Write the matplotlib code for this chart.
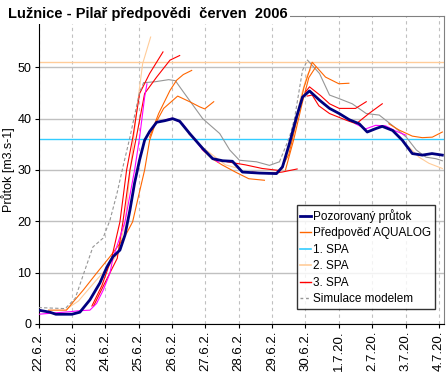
import numpy as np
import matplotlib
matplotlib.use('Agg')
import matplotlib.pyplot as plt
from matplotlib.lines import Line2D

plt.rcParams['font.family'] = ['Liberation Sans', 'DejaVu Sans']

# x = days since 22.6.2006 00:00, values in m3/s
tick_labels = ['22.6.2.', '23.6.2.', '24.6.2.', '25.6.2.', '26.6.2.', '27.6.2.',
               '28.6.2.', '29.6.2.', '30.6.2.', '1.7.20.', '2.7.20.', '3.7.20.', '4.7.20.']

spa1 = 36.0
spa2 = 51.0

# observed discharge
obs_d = [0.0, 0.34, 0.52, 1.0, 1.24, 1.54, 1.84, 2.05, 2.23, 2.44, 2.59, 2.74, 2.88, 3.03,
         3.18, 3.33, 3.54, 3.78, 4.02, 4.23, 4.53, 4.92, 5.22, 5.52, 5.81, 6.11, 6.62, 7.13,
         7.31, 7.52, 7.73, 7.91, 8.12, 8.42, 8.72, 9.01, 9.31, 9.61, 9.85, 10.12, 10.30,
         10.61, 10.90, 11.20, 11.50, 11.79, 12.1]
obs_q = [2.7, 2.3, 1.9, 1.9, 2.3, 4.7, 8.0, 11.1, 13.1, 14.4, 17.3, 22.2, 27.5, 32.0,
         35.8, 37.5, 39.3, 39.6, 40.0, 39.5, 37.1, 34.2, 32.2, 31.8, 31.7, 29.6, 29.4, 29.3,
         30.6, 35.2, 40.3, 44.2, 45.4, 43.6, 42.0, 41.0, 39.8, 39.0, 37.4, 38.1, 38.5,
         37.7, 35.8, 33.2, 32.9, 33.2, 32.9]

# model simulation (grey dashed) and its continuation (grey solid)
sim1_d = [0.0, 0.8, 1.1, 1.39, 1.63, 1.93, 2.14, 2.35, 2.53, 2.74, 3.03, 3.15]
sim1_q = [3.2, 3.0, 5.0, 10.5, 15.0, 16.7, 20.2, 25.4, 30.6, 36.4, 45.2, 47.0]
gry1_d = [3.15, 3.5, 3.9, 4.1, 4.32, 4.92, 5.43, 5.73, 6.02, 6.53, 6.92, 7.22]
gry1_q = [47.0, 47.2, 47.6, 47.4, 45.4, 40.0, 37.1, 33.9, 31.9, 31.6, 30.9, 31.6]
sim2_d = [7.22, 7.52, 7.67, 7.91, 8.06]
sim2_q = [31.6, 36.4, 40.0, 49.4, 51.4]
gry2_d = [8.06, 8.42, 8.72, 9.01, 9.4, 9.82, 10.21, 10.6, 11.02, 11.32, 11.61, 11.91, 12.1]
gry2_q = [51.4, 48.8, 44.6, 43.9, 42.9, 41.0, 40.7, 38.7, 36.4, 33.9, 32.5, 32.2, 31.8]

# AQUALOG forecasts (orange)
o1_d = [0.3, 0.84, 1.04, 1.34, 1.74, 2.14, 2.44, 2.65, 2.82, 3.0, 3.18, 3.33, 3.5, 3.75,
        4.17, 4.53, 4.83, 4.98, 5.25]
o1_q = [2.7, 2.7, 4.3, 6.6, 9.9, 13.1, 15.7, 17.8, 19.9, 25.0, 30.0, 35.8, 39.0, 42.0,
        44.4, 43.3, 42.3, 41.9, 43.3]
o2_d = [3.33, 3.6, 3.94, 4.14, 4.34, 4.59]
o2_q = [36.4, 41.0, 45.5, 47.5, 48.6, 49.4]
o3_d = [4.9, 5.2, 5.5, 5.9, 6.3, 6.77]
o3_q = [34.0, 32.2, 31.0, 29.6, 28.3, 28.0]
o4_d = [7.2, 7.5, 7.75, 7.95, 8.2, 8.6, 9.0, 9.3]
o4_q = [29.5, 33.0, 40.0, 46.0, 51.0, 48.1, 46.8, 46.9]
o5_d = [7.4, 7.65, 7.9, 8.1, 8.3]
o5_q = [30.0, 36.0, 43.0, 48.0, 50.0]
o6_d = [10.5, 10.8, 11.2, 11.5, 11.8, 12.1]
o6_q = [39.0, 37.8, 36.6, 36.3, 36.4, 37.4]

# other forecast runs (red)
r1_d = [1.6, 1.9, 2.19, 2.44, 2.64, 2.83, 3.03, 3.33, 3.73]
r1_q = [3.5, 7.5, 12.8, 19.9, 30.0, 36.5, 44.9, 48.8, 53.0]
r2_d = [1.65, 1.95, 2.36, 2.53, 2.74, 2.95, 3.18, 3.54, 3.94, 4.23]
r2_q = [3.5, 7.5, 12.8, 19.9, 30.0, 37.0, 44.9, 48.1, 51.4, 52.3]
r3_d = [5.65, 6.2, 6.7, 7.22]
r3_q = [31.6, 31.0, 30.3, 29.9]
r4_d = [6.4, 6.9, 7.3, 7.75]
r4_q = [29.6, 29.3, 29.6, 30.2]
r5_d = [8.0, 8.12, 8.45, 8.72, 9.01, 9.5, 9.82]
r5_q = [45.2, 46.2, 44.5, 42.9, 42.0, 42.0, 43.3]
r6_d = [8.05, 8.2, 8.4, 8.72, 9.22, 9.52, 9.9, 10.3]
r6_q = [44.4, 44.6, 42.5, 41.0, 39.7, 39.0, 41.0, 42.9]

# light orange runs
p1_d = [0.84, 1.2, 1.74, 2.14, 2.4, 2.6, 2.75, 2.93, 3.12, 3.36]
p1_q = [2.9, 4.5, 8.6, 11.5, 14.0, 20.0, 30.0, 41.0, 50.7, 55.9]
p2_d = [4.5, 4.9, 5.3, 5.6, 6.0]
p2_q = [37.0, 34.5, 32.5, 31.0, 30.3]
p3_d = [7.3, 7.6, 7.85, 8.05, 8.15]
p3_q = [30.0, 36.0, 44.0, 48.5, 49.5]
p4_d = [11.1, 11.4, 11.7, 12.1]
p4_q = [34.5, 32.5, 31.3, 30.3]

# magenta runs
m1_d = [0.0, 0.95, 1.24, 1.54, 1.74, 1.94, 2.14, 2.23, 2.59, 2.88, 3.03, 3.18, 3.25]
m1_q = [1.9, 2.4, 2.6, 2.7, 4.0, 6.6, 9.9, 12.8, 19.9, 30.0, 36.4, 44.2, 46.8]
m2_d = [3.6, 4.0, 4.32, 4.62, 4.92, 5.22, 5.4]
m2_q = [39.4, 40.1, 39.0, 36.4, 33.9, 32.3, 31.5]
m3_d = [9.5, 9.8, 10.1, 10.4, 10.7, 11.0]
m3_q = [39.0, 38.0, 38.7, 38.6, 37.6, 36.8]

C_OBS = '#000080'
C_AQ = '#FF6600'
C_SPA1 = '#33CCFF'
C_SPA2 = '#FFCC99'
C_RED = '#FF0000'
C_GRY = '#969696'
C_MAG = '#FF00FF'
LW = 0.8

fig = plt.figure(figsize=(4.48, 3.74), dpi=100)
ax = fig.add_axes([38.5 / 448, 50 / 374, (444 - 38.5) / 448, 308 / 374])

ax.axhline(spa1, color=C_SPA1, lw=1.0, zorder=2)
ax.axhline(spa2, color=C_SPA2, lw=1.0, zorder=2)

for d, q in [(p1_d, p1_q), (p2_d, p2_q), (p3_d, p3_q), (p4_d, p4_q)]:
    ax.plot(d, q, color=C_SPA2, lw=LW, zorder=3)
ax.plot(gry1_d, gry1_q, color=C_GRY, lw=LW, zorder=3)
ax.plot(gry2_d, gry2_q, color=C_GRY, lw=LW, zorder=3)
for d, q in [(o1_d, o1_q), (o2_d, o2_q), (o3_d, o3_q), (o4_d, o4_q), (o5_d, o5_q), (o6_d, o6_q)]:
    ax.plot(d, q, color=C_AQ, lw=LW, zorder=4)
for d, q in [(r1_d, r1_q), (r2_d, r2_q), (r3_d, r3_q), (r4_d, r4_q), (r5_d, r5_q), (r6_d, r6_q)]:
    ax.plot(d, q, color=C_RED, lw=LW, zorder=4)
for d, q in [(m1_d, m1_q), (m2_d, m2_q), (m3_d, m3_q)]:
    ax.plot(d, q, color=C_MAG, lw=LW, zorder=4)
ax.plot(sim1_d, sim1_q, color=C_GRY, lw=LW, ls=(0, (3, 2)), zorder=4)
ax.plot(sim2_d, sim2_q, color=C_GRY, lw=LW, ls=(0, (3, 2)), zorder=4)
ax.plot(obs_d, obs_q, color=C_OBS, lw=2.0, zorder=5)

ax.set_xlim(0, 12.15)
ax.set_ylim(0, 60)
ax.set_yticks(range(0, 60, 10))
ax.set_xticks(range(len(tick_labels)))
ax.set_xticklabels(tick_labels, rotation=90, fontsize=9.5)
ax.tick_params(axis='y', labelsize=9, length=3, pad=2)
ax.tick_params(axis='x', length=3, pad=2)
ax.yaxis.grid(True, color='#C0C0C0', lw=1.0, zorder=0)
ax.xaxis.grid(True, color='#C0C0C0', lw=0.8, ls=(0, (3, 3)), zorder=0)
ax.set_axisbelow(True)
for s in ['top', 'right']:
    ax.spines[s].set_color('#808080')
    ax.spines[s].set_linewidth(0.8)
ax.set_ylabel('Průtok [m3.s-1]', fontsize=9, labelpad=2)

handles = [
    Line2D([], [], color=C_OBS, lw=2.0),
    Line2D([], [], color=C_AQ, lw=1.0),
    Line2D([], [], color=C_SPA1, lw=1.2),
    Line2D([], [], color=C_SPA2, lw=1.2),
    Line2D([], [], color=C_RED, lw=1.0),
    Line2D([], [], color=C_GRY, lw=1.0, ls=(0, (2, 2))),
]
labels = ['Pozorovaný průtok', 'Předpověď AQUALOG', '1. SPA', '2. SPA', '3. SPA',
          'Simulace modelem']
leg = ax.legend(handles, labels, loc='lower right', bbox_to_anchor=(0.978, 0.049),
                fontsize=8.5, frameon=True, fancybox=False, edgecolor='black',
                handlelength=0.9, handletextpad=0.2, labelspacing=0.38,
                borderpad=0.3, borderaxespad=0)
leg.get_frame().set_linewidth(1.0)
leg.set_zorder(10)

fig.text(8 / 448, 1 - 14 / 374, 'Lužnice - Pilař předpovědi  červen  2006',
         fontsize=10.5, fontweight='bold', va='center', ha='left',
         bbox=dict(fc='white', ec='none', pad=2))

fig.savefig('out.png', dpi=100)
